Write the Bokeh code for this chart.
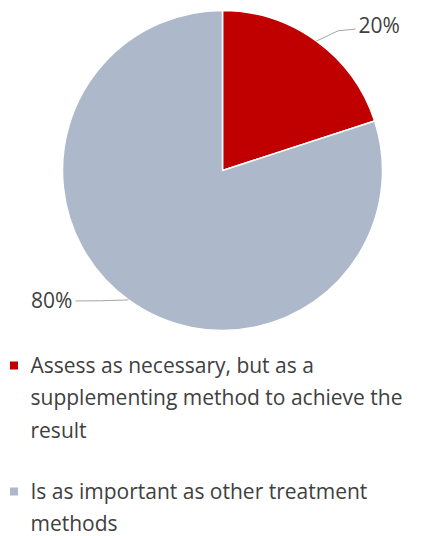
import math
import textwrap
from bokeh.plotting import figure
from bokeh.models import Range1d, ColumnDataSource
from bokeh.core.properties import value
from bokeh.embed import file_html
from bokeh.resources import INLINE

# ---- data ----
categories = [
    "Assess as necessary, but as a supplementing method to achieve the result",
    "Is as important as other treatment methods",
]
shares = [20, 80]
colors = ["#C00000", "#ADB9CA"]
pct_labels = [f"{s}%" for s in shares]

W, H = 442, 536
p = figure(width=W, height=H, output_backend="svg", toolbar_location=None,
           x_range=Range1d(0, W), y_range=Range1d(0, H),
           min_border=0, outline_line_color=None)
p.axis.visible = False
p.grid.visible = False
p.background_fill_color = "white"
p.border_fill_color = "white"

def Y(py):
    return H - py

cx, cy, r = 222, Y(170), 160
total = sum(shares)
cum = 0
starts, ends, mids = [], [], []
for s in shares:
    a_end = math.pi / 2 - 2 * math.pi * cum / total
    cum += s
    a_start = math.pi / 2 - 2 * math.pi * cum / total
    starts.append(a_start)
    ends.append(a_end)
    mids.append((a_start + a_end) / 2)

src = ColumnDataSource(dict(x=[cx] * len(shares), y=[cy] * len(shares),
                            start=starts, end=ends, color=colors))
p.wedge(x="x", y="y", radius=r, start_angle="start", end_angle="end",
        direction="anticlock", fill_color="color", line_color="white",
        line_width=1.5, source=src)

font = value("Open Sans")
txt_color = "#404040"

# leader lines and percentage labels (text placed by vertical middle)
offsets = [(39, 12), (-53, -1)]
for i, m in enumerate(mids):
    ex, ey = cx + r * math.cos(m), cy + r * math.sin(m)
    dx, dy = offsets[i]
    lx, ly = ex + dx, ey + dy
    p.line([ex, ex + dx * 0.55, lx], [ey, ly - dy * 0.15, ly], line_color="#A6A6A6", line_width=1)
    if dx > 0:
        p.text(x=[lx + 3], y=[ly + 4], text=[pct_labels[i]], text_font=font,
               text_font_size="21px", text_color=txt_color,
               text_align="left", text_baseline="middle")
    else:
        p.text(x=[lx - 3], y=[ly + 1], text=[pct_labels[i]], text_font=font,
               text_font_size="21px", text_color=txt_color,
               text_align="right", text_baseline="middle")

# legend
item_mid = [364, 490]
line_h = 32.5
for i, cat in enumerate(categories):
    lines = textwrap.wrap(cat, width=36)
    base = item_mid[i]
    p.rect(x=[13.5], y=[Y(base + 1)], width=8, height=8,
           fill_color=colors[i], line_color=None)
    for j, ln in enumerate(lines):
        p.text(x=[30], y=[Y(base + j * line_h)], text=[ln], text_font=font,
               text_font_size="21px", text_color=txt_color,
               text_align="left", text_baseline="middle")

open("out.html", "w").write(file_html(p, INLINE))
